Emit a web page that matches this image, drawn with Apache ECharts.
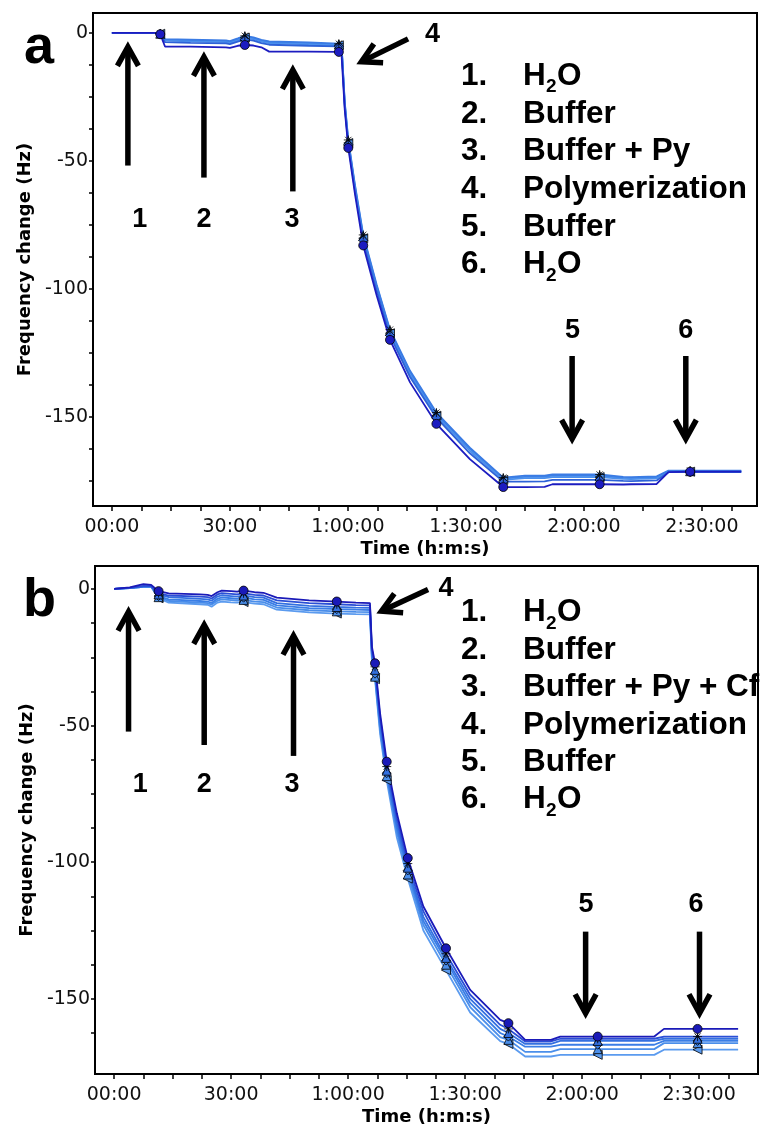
<!DOCTYPE html>
<html><head><meta charset="utf-8">
<script src="https://cdn.jsdelivr.net/npm/echarts@6/dist/echarts.min.js"></script>
<style>html,body{margin:0;padding:0;background:#fff}#c{width:761px;height:1128px}</style>
</head><body><div id="c"></div>
<script>
// ---------- Panel a data (time in minutes, frequency change in Hz) ----------
const timeA = [0, 11, 12.3, 13.5, 20, 29, 30, 32, 33.8, 36, 38, 40, 50, 57.7, 58.4, 59.2, 60.1, 61.8, 63.9, 67.3, 70.7, 75.8, 82.5, 91, 99.5, 105, 110, 112, 124, 130, 132, 138.5, 141.5, 147, 160];
const a1 = [0, 0, -0.5, -5.3, -5.3, -5.6, -5.8, -5.0, -4.7, -4.9, -5.6, -7.3, -7.3, -7.4, -9, -30, -44.9, -63, -83, -102.5, -119.9, -136.5, -152.7, -166.5, -177.4, -177.4, -177.3, -176.3, -176.3, -176.4, -176.3, -176.2, -171.6, -171.4, -171.4];
const a2 = [0, 0, -0.3, -2.6, -2.9, -3.2, -3.5, -2.4, -1.4, -2.0, -3.0, -3.6, -4.0, -4.5, -5.3, -27.4, -42.3, -59.9, -79.4, -98.8, -116.4, -132.6, -148.8, -162.4, -174.1, -173.4, -173.4, -172.9, -173.0, -173.8, -173.9, -173.6, -171.2, -171.2, -171.2];
const a3 = [0, 0, -0.3, -3.0, -3.3, -3.6, -3.9, -2.9, -1.8, -2.4, -3.4, -4.0, -4.4, -4.8, -5.6, -28, -43, -60.8, -80.2, -99.8, -117.3, -133.4, -149.5, -163.2, -174.6, -173.9, -173.9, -173.5, -173.5, -174.2, -174.3, -174.0, -171.4, -171.4, -171.4];
const a4 = [0, 0, -0.4, -3.6, -3.9, -4.1, -4.4, -3.4, -2.5, -3.0, -4.0, -4.6, -5.0, -5.2, -6.0, -28.8, -43.6, -61.6, -81.0, -100.6, -118.2, -134.4, -150.3, -164.2, -175.3, -175.3, -175.2, -174.6, -174.6, -175.0, -175.1, -174.8, -171.6, -171.6, -171.6];
const a5 = [0, 0, -0.2, -2.4, -2.6, -2.9, -3.2, -2.1, -1.1, -1.7, -2.7, -3.3, -3.7, -4.2, -5.0, -27, -41.8, -59.4, -78.9, -98.3, -115.9, -132.0, -148.3, -162.0, -173.7, -172.9, -172.9, -172.5, -172.5, -173.4, -173.5, -173.2, -171.0, -171.0, -171.0];
const markerIdxA = [2, 8, 13, 16, 18, 20, 22, 24, 28, 33];

// ---------- Panel b data ----------
const timeB = [0, 4, 7.5, 9.5, 11.4, 14, 22, 24, 25, 26.5, 27.6, 30, 31.5, 33.2, 36, 38.3, 41.7, 50, 57.1, 62, 65.6, 66.1, 66.9, 68.2, 69.9, 72.5, 75.3, 79.3, 85.1, 91.3, 99, 101.1, 105.4, 112, 114.4, 124, 138.5, 141, 149.6, 160];
const b1 = [0, 0.6, 1.8, 1.5, -0.8, -1.6, -2.0, -2.2, -2.6, -1.2, -0.6, -0.8, -1.0, -0.6, -1.2, -1.4, -3.2, -4.2, -4.6, -5.0, -5.2, -21.1, -27.2, -45.5, -63.2, -82.1, -98.5, -116.2, -131.5, -146.7, -157.7, -158.9, -165.0, -165.0, -163.8, -163.8, -163.8, -161.0, -161.0, -161.0];
const b2 = [0, 0.4, 1.0, 1.0, -1.5, -2.4, -2.8, -3.0, -3.5, -2.0, -1.5, -1.8, -2.0, -1.6, -2.2, -2.4, -4.2, -5.2, -5.6, -5.9, -6.0, -22, -28.5, -47, -65, -84, -100.5, -118, -133.5, -148.5, -159.5, -161, -165.6, -165.6, -164.6, -164.6, -164.6, -163.8, -163.8, -163.8];
const b3 = [0, 0.4, 1.0, 1.0, -2.0, -3.0, -3.6, -3.8, -4.3, -2.8, -2.3, -2.6, -2.8, -2.4, -3.0, -3.2, -5.2, -6.2, -6.6, -6.8, -6.9, -23, -29.6, -48.5, -66.5, -86, -102, -120, -135, -150, -161, -162.5, -166.5, -166.5, -165.4, -165.4, -165.4, -164.6, -164.6, -164.6];
const b4 = [0, 0.3, 0.8, 0.8, -2.6, -3.8, -4.4, -4.6, -5.1, -3.6, -3.1, -3.4, -3.6, -3.2, -3.8, -4.0, -6.0, -7.0, -7.4, -7.6, -7.7, -24, -31, -50, -67.4, -87.5, -103, -121.5, -136, -151.5, -162.5, -163.8, -167.5, -167.5, -166.8, -166.8, -166.8, -165.4, -165.4, -165.4];
const b5 = [0, 0.3, 0.8, 0.8, -3.0, -4.4, -5.0, -5.2, -5.7, -4.3, -3.8, -4.1, -4.3, -4.0, -4.6, -4.8, -6.8, -7.8, -8.2, -8.4, -8.5, -25, -32.1, -51.5, -68.5, -89, -104.5, -123, -137.5, -153, -164, -165, -169.4, -169.4, -168.4, -168.4, -168.4, -166.2, -166.2, -166.2];
const b6 = [0, 0.3, 0.8, 0.8, -3.4, -5.0, -5.6, -5.8, -6.5, -5.0, -4.6, -4.9, -5.0, -4.8, -5.4, -5.6, -7.6, -8.6, -9.0, -9.2, -9.3, -26, -33, -53, -70, -91, -106, -125, -139.5, -155, -165.5, -166.5, -171.1, -171.1, -170.5, -170.5, -170.5, -168.6, -168.6, -168.6];
const markerIdxB = [4, 13, 18, 22, 24, 26, 28, 31, 35, 38];

// ---------- Axis ticks / labels ----------
const xLabelMinutes = [0, 30, 60, 90, 120, 150];
const xTickMinutes = [0, 7.5, 15, 22.5, 30, 37.5, 45, 52.5, 60, 67.5, 75, 82.5, 90, 97.5, 105, 112.5, 120, 127.5, 135, 142.5, 150, 157.5];
const yLabelValues = [0, -50, -100, -150];
const yTickValuesA = [0, -12.5, -25, -37.5, -50, -62.5, -75, -87.5, -100, -112.5, -125, -137.5, -150, -162.5, -175];
const yTickValuesB = [0, -12.5, -25, -37.5, -50, -62.5, -75, -87.5, -100, -112.5, -125, -137.5, -150, -162.5];

// ---------- Annotations (data coordinates) ----------
// arrows: [tail time, tail value, tip time, tip value]
const arrowsA = [[4.07, -51.8, 4.07, -3.5], [23.4, -56.5, 23.4, -7.4], [46.0, -61.9, 46.0, -12.5], [75.3, -2.3, 62.3, -12.1], [117.0, -126.2, 117.0, -160.5], [145.9, -126.2, 145.9, -160.5]];
const stepLabelPosA = [[7.1, -72.8], [23.4, -72.8], [45.8, -72.8], [81.5, -0.8], [117.1, -116.4], [145.9, -116.4]];
const arrowsB = [[3.7, -52.2, 3.7, -6.5], [23.1, -57.1, 23.1, -11.3], [46.0, -61.1, 46.0, -15.3], [80.5, -0.2, 67.4, -8.9], [120.9, -125.4, 120.9, -157.1], [150.1, -125.4, 150.1, -157.1]];
const stepLabelPosB = [[6.7, -71.7], [23.1, -71.7], [45.6, -71.7], [85.1, 0], [121.0, -115.6], [149.2, -115.6]];
const stepLabels = ['1', '2', '3', '4', '5', '6'];

const legendA = ['H2O', 'Buffer', 'Buffer + Py', 'Polymerization', 'Buffer', 'H2O'];
const legendB = ['H2O', 'Buffer', 'Buffer + Py + Cf', 'Polymerization', 'Buffer', 'H2O'];

// ---------- Build ----------
const ASTERISK = 'path://M5 0L5 10M0 5L10 5M1.5 1.5L8.5 8.5M8.5 1.5L1.5 8.5';
const chart = echarts.init(document.getElementById('c'), null, {renderer: 'canvas', width: 761, height: 1128});

function fmtTime(m) {
  const h = Math.floor(m / 60), mm = Math.round(m % 60);
  const s = String(mm).padStart(2, '0');
  return h > 0 ? h + ':' + s + ':00' : s + ':00';
}

function lineSeries(gi, times, vals, markerIdx, color, sym, rot) {
  return {
    type: 'line', xAxisIndex: gi, yAxisIndex: gi,
    symbol: 'none', showSymbol: true, showAllSymbol: true, symbolSize: 9,
    lineStyle: {color: color, width: 1.8}, itemStyle: {color: color, borderColor: '#000', borderWidth: 0.8},
    silent: true, animation: false, clip: true,
    data: times.map((t, i) => markerIdx.indexOf(i) >= 0
      ? {value: [t, vals[i]], symbol: sym, symbolRotate: rot || 0}
      : [t, vals[i]])
  };
}

function renderArrow(params, api) {
  const p1 = api.coord([api.value(0), api.value(1)]);
  const p2 = api.coord([api.value(2), api.value(3)]);
  const dx = p2[0] - p1[0], dy = p2[1] - p1[1], L = Math.hypot(dx, dy);
  const ux = dx / L, uy = dy / L;
  const apex = [p2[0] - ux * 5, p2[1] - uy * 5];
  const hl = 19, hw = 10.5;
  const bx = apex[0] - ux * hl, by = apex[1] - uy * hl;
  const w1 = [bx - uy * hw, by + ux * hw], w2 = [bx + uy * hw, by - ux * hw];
  return {type: 'group', children: [
    {type: 'line', shape: {x1: p1[0], y1: p1[1], x2: apex[0] - ux * 2, y2: apex[1] - uy * 2}, style: {stroke: '#000', lineWidth: 5.5}},
    {type: 'polyline', shape: {points: [w1, apex, w2]}, style: {stroke: '#000', fill: null, lineWidth: 5.5, lineJoin: 'miter', miterLimit: 10}}
  ]};
}
function renderStepLabel(params, api) {
  const p = api.coord([api.value(0), api.value(1)]);
  return {type: 'text', x: p[0], y: p[1], style: {text: stepLabels[params.dataIndex], font: 'bold 27px "Liberation Sans"', fill: '#000', align: 'center', verticalAlign: 'middle'}};
}

function xAxisCfg(gi, min, max) {
  return {
    type: 'value', gridIndex: gi, min: min, max: max,
    name: 'Time (h:m:s)', nameLocation: 'middle', nameGap: 34,
    nameTextStyle: {fontFamily: 'DejaVu Sans', fontWeight: 'bold', fontSize: 18, color: '#000'},
    axisLine: {onZero: false, lineStyle: {color: '#000', width: 2}},
    axisTick: {show: true, inside: false, length: 5, lineStyle: {color: '#000', width: 1.5}, customValues: xTickMinutes},
    axisLabel: {customValues: xLabelMinutes, formatter: fmtTime, fontFamily: 'DejaVu Sans', fontSize: 19, color: '#111', margin: 12},
    splitLine: {show: false}
  };
}
function yAxisCfg(gi, min, max, ticks) {
  return {
    type: 'value', gridIndex: gi, min: min, max: max,
    name: 'Frequency change (Hz)', nameLocation: 'middle', nameGap: 58,
    nameTextStyle: {fontFamily: 'DejaVu Sans', fontWeight: 'bold', fontSize: 18, color: '#000'},
    axisLine: {onZero: false, lineStyle: {color: '#000', width: 2}},
    axisTick: {show: true, inside: false, length: 4, lineStyle: {color: '#000', width: 1.5}, customValues: ticks},
    axisLabel: {customValues: yLabelValues, fontFamily: 'DejaVu Sans', fontSize: 19, color: '#111', margin: 5},
    splitLine: {show: false}
  };
}

function legendGraphics(items, y0, dy) {
  const els = [];
  const F = 'bold 31.5px "Liberation Sans"';
  items.forEach((txt, i) => {
    const y = y0 + i * dy;
    els.push({type: 'text', x: 461, y: y, style: {text: (i + 1) + '.', font: F, fill: '#000', align: 'left', verticalAlign: 'middle'}});
    if (txt === 'H2O') {
      els.push({type: 'text', x: 523, y: y, style: {text: 'H', font: F, fill: '#000', align: 'left', verticalAlign: 'middle'}});
      els.push({type: 'text', x: 546, y: y + 11, style: {text: '2', font: 'bold 19px "Liberation Sans"', fill: '#000', align: 'left', verticalAlign: 'middle'}});
      els.push({type: 'text', x: 557, y: y, style: {text: 'O', font: F, fill: '#000', align: 'left', verticalAlign: 'middle'}});
    } else {
      els.push({type: 'text', x: 523, y: y, style: {text: txt, font: F, fill: '#000', align: 'left', verticalAlign: 'middle'}});
    }
  });
  return els;
}

const colA = ['#1c1cc0', '#3d85e8', '#4a8fec', '#2d62d8', '#3a7be4'];
const colB = ['#1a1ab8', '#2a4fd6', '#3370e0', '#3a7ee6', '#4a8eea', '#5b9bef'];

const option = {
  backgroundColor: '#fff',
  animation: false,
  grid: [
    {left: 93, top: 13, width: 664, height: 493, show: true, borderColor: '#000', borderWidth: 2, backgroundColor: 'transparent'},
    {left: 95, top: 566, width: 663, height: 508, show: true, borderColor: '#000', borderWidth: 2, backgroundColor: 'transparent'}
  ],
  xAxis: [xAxisCfg(0, -4.8, 164), xAxisCfg(1, -4.9, 165.1)],
  yAxis: [yAxisCfg(0, -184.8, 7.8, yTickValuesA), yAxisCfg(1, -177.5, 8.4, yTickValuesB)],
  series: [
    lineSeries(0, timeA, a2, markerIdxA, colA[1], 'triangle'),
    lineSeries(0, timeA, a3, markerIdxA, colA[2], 'triangle', 90),
    lineSeries(0, timeA, a4, markerIdxA, colA[3], 'diamond'),
    lineSeries(0, timeA, a5, markerIdxA, colA[4], ASTERISK),
    lineSeries(0, timeA, a1, markerIdxA, colA[0], 'circle'),
    lineSeries(1, timeB, b6, markerIdxB, colB[5], 'triangle', 90),
    lineSeries(1, timeB, b5, markerIdxB, colB[4], 'triangle'),
    lineSeries(1, timeB, b4, markerIdxB, colB[3], 'diamond'),
    lineSeries(1, timeB, b3, markerIdxB, colB[2], 'triangle'),
    lineSeries(1, timeB, b2, markerIdxB, colB[1], ASTERISK),
    lineSeries(1, timeB, b1, markerIdxB, colB[0], 'circle'),
    {type: 'custom', xAxisIndex: 0, yAxisIndex: 0, data: arrowsA, renderItem: renderArrow, clip: false, silent: true, encode: {x: [0, 2], y: [1, 3]}, z: 10},
    {type: 'custom', xAxisIndex: 0, yAxisIndex: 0, data: stepLabelPosA, renderItem: renderStepLabel, clip: false, silent: true, encode: {x: 0, y: 1}, z: 10},
    {type: 'custom', xAxisIndex: 1, yAxisIndex: 1, data: arrowsB, renderItem: renderArrow, clip: false, silent: true, encode: {x: [0, 2], y: [1, 3]}, z: 10},
    {type: 'custom', xAxisIndex: 1, yAxisIndex: 1, data: stepLabelPosB, renderItem: renderStepLabel, clip: false, silent: true, encode: {x: 0, y: 1}, z: 10}
  ],
  graphic: [].concat(
    legendGraphics(legendA, 76.2, 37.7),
    legendGraphics(legendB, 612.8, 37.35),
    [
      {type: 'text', x: 24, y: 48, style: {text: 'a', font: 'bold 54px "Liberation Sans"', fill: '#000', align: 'left', verticalAlign: 'middle'}},
      {type: 'text', x: 23, y: 601, style: {text: 'b', font: 'bold 54px "Liberation Sans"', fill: '#000', align: 'left', verticalAlign: 'middle'}}
    ]
  )
};
chart.setOption(option);
</script>
</body></html>
